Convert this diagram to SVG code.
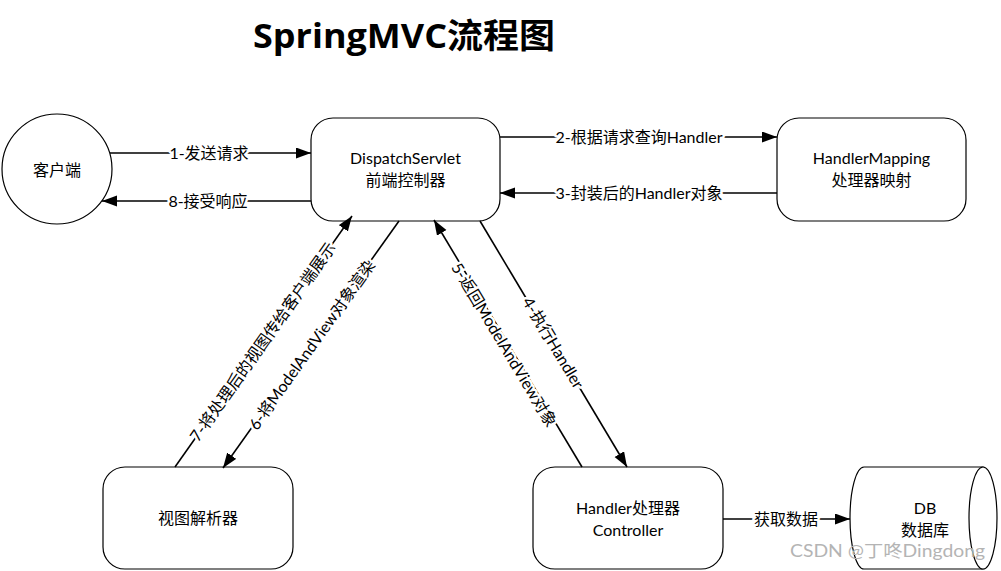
<svg xmlns="http://www.w3.org/2000/svg" width="1001" height="571" viewBox="0 0 1001 571">
<style>
.t{font-family:Lato,"Noto Sans CJK SC",sans-serif;font-size:16px;fill:#000;text-anchor:middle}
.lbl{font-family:Lato,"Noto Sans CJK SC",sans-serif;font-size:16px;fill:#000;text-anchor:middle;stroke:#fff;stroke-width:5px;paint-order:stroke;stroke-linejoin:round}
.box{fill:#fff;stroke:#000;stroke-width:1.2}
.ln{stroke:#000;stroke-width:1.6;fill:none;marker-end:url(#ah)}
.title{font-family:"Open Sans","Noto Sans CJK SC",sans-serif;font-size:34px;font-weight:bold;text-anchor:middle}
</style>
<defs>
<marker id="ah" markerUnits="userSpaceOnUse" markerWidth="16" markerHeight="12" refX="15" refY="5.5" orient="auto">
<path d="M0,0 L15,5.5 L0,11 z" fill="#000"/>
</marker>
</defs>
<rect width="1001" height="571" fill="#fff"/>
<text class="title" x="404" y="48" textLength="302" lengthAdjust="spacingAndGlyphs">SpringMVC流程图</text>

<g id="client">
<circle class="box" cx="57" cy="169" r="55"/>
<text class="t" x="57" y="176">客户端</text>
</g>
<g id="dispatcher">
<rect class="box" x="311" y="118" width="189" height="103" rx="22"/>
<text class="t" x="405.5" y="164">DispatchServlet</text>
<text class="t" x="405.5" y="186">前端控制器</text>
</g>
<g id="mapping">
<rect class="box" x="777" y="118" width="189" height="103" rx="22"/>
<text class="t" x="871.5" y="164">HandlerMapping</text>
<text class="t" x="871.5" y="186">处理器映射</text>
</g>
<g id="viewresolver">
<rect class="box" x="103" y="467" width="190" height="102" rx="22"/>
<text class="t" x="198" y="524">视图解析器</text>
</g>
<g id="controller">
<rect class="box" x="533" y="467" width="190" height="102" rx="22"/>
<text class="t" x="628" y="514">Handler处理器</text>
<text class="t" x="628" y="536">Controller</text>
</g>
<g id="db">
<path class="box" d="M864,467 L983,467 L983,569 L864,569 A14,51 0 0 1 864,467 z"/>
<ellipse class="box" cx="983" cy="518" rx="14" ry="51"/>
<text class="t" x="925" y="514">DB</text>
<text class="t" x="925" y="536">数据库</text>
</g>

<g id="connectors">
<line class="ln" x1="110" y1="153" x2="311" y2="153"/>
<line class="ln" x1="311" y1="201" x2="102" y2="201"/>
<line class="ln" x1="500" y1="137" x2="777" y2="137"/>
<line class="ln" x1="777" y1="193" x2="500" y2="193"/>
<line class="ln" x1="175" y1="467" x2="352" y2="216"/>
<line class="ln" x1="399" y1="221" x2="223" y2="468"/>
<line class="ln" x1="582" y1="467" x2="434" y2="220"/>
<line class="ln" x1="480" y1="221" x2="627" y2="467"/>
<line class="ln" x1="723" y1="519" x2="850" y2="519"/>
<text class="lbl" x="209" y="158.5">1-发送请求</text>
<text class="lbl" x="208" y="206.5">8-接受响应</text>
<text class="lbl" x="639" y="142.5">2-根据请求查询Handler</text>
<text class="lbl" x="639" y="198.5">3-封装后的Handler对象</text>
<text class="lbl" x="786" y="524.5">获取数据</text>
<text class="lbl" transform="translate(263,342) rotate(-54.7)" x="0" y="5.5">7-将处理后的视图传给客户端展示</text>
<text class="lbl" transform="translate(312,345) rotate(-54.5)" x="0" y="5.5">6-将ModelAndView对象渲染</text>
<text class="lbl" transform="translate(504,345) rotate(59)" x="0" y="5.5">5-返回ModelAndView对象</text>
<text class="lbl" transform="translate(553,343) rotate(59.1)" x="0" y="5.5">4-执行Handler</text>
</g>
<text x="790" y="557" textLength="195" lengthAdjust="spacingAndGlyphs" font-family="Lato,'Noto Sans CJK SC',sans-serif" font-size="17" fill="#b4b4b4">CSDN @丁咚Dingdong</text>
</svg>
